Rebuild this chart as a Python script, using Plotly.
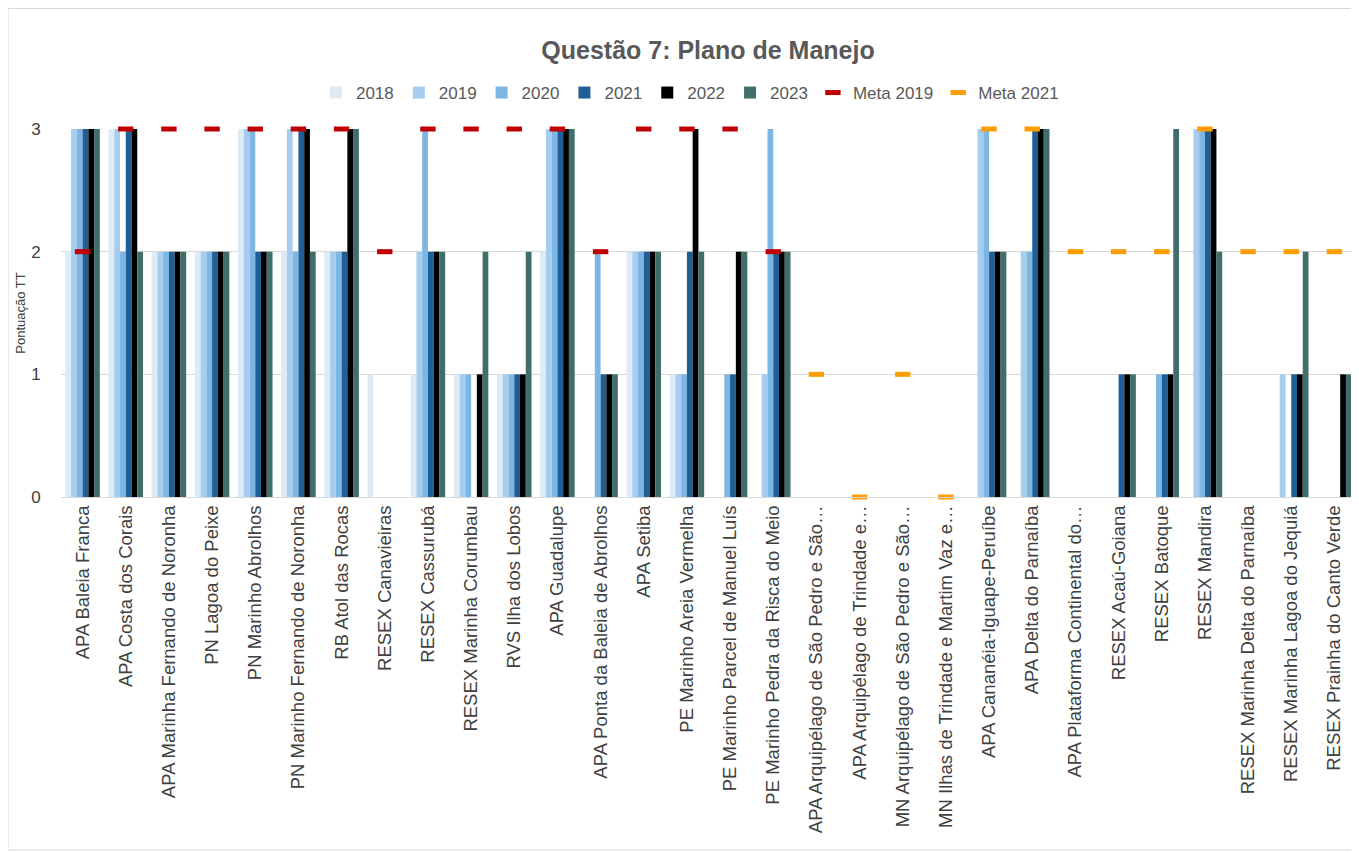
import plotly.graph_objects as go

categories = [
    "APA Baleia Franca", "APA Costa dos Corais", "APA Marinha Fernando de Noronha",
    "PN Lagoa do Peixe", "PN Marinho Abrolhos", "PN Marinho Fernando de Noronha",
    "RB Atol das Rocas", "RESEX Canavieiras", "RESEX Cassurubá",
    "RESEX Marinha Corumbau", "RVS Ilha dos Lobos", "APA Guadalupe",
    "APA Ponta da Baleia de Abrolhos", "APA Setiba", "PE Marinho Areia Vermelha",
    "PE Marinho Parcel de Manuel Luís", "PE Marinho Pedra da Risca do Meio",
    "APA Arquipélago de São Pedro e São…", "APA Arquipélago de Trindade e…",
    "MN Arquipélago de São Pedro e São…", "MN Ilhas de Trindade e Martim Vaz e…",
    "APA Cananéia-Iguape-Peruíbe", "APA Delta do Parnaíba",
    "APA Plataforma Continental do…", "RESEX Acaú-Goiana", "RESEX Batoque",
    "RESEX Mandira", "RESEX Marinha Delta do Parnaíba",
    "RESEX Marinha Lagoa do Jequiá", "RESEX Prainha do Canto Verde",
]

v2018 = [2, 3, 2, 2, 3, 2, 2, 1, 1, 1, 1, 2, 0, 2, 1, 0, 0, 0, 0, 0, 0, 0, 0, 0, 0, 0, 0, 0, 0, 0]
v2019 = [3, 3, 2, 2, 3, 3, 2, 0, 2, 1, 1, 3, 0, 2, 1, 0, 1, 0, 0, 0, 0, 3, 2, 0, 0, 0, 3, 0, 1, 0]
v2020 = [3, 2, 2, 2, 3, 2, 2, 0, 3, 1, 1, 3, 2, 2, 1, 1, 3, 0, 0, 0, 0, 3, 2, 0, 0, 1, 3, 0, 0, 0]
v2021 = [3, 3, 2, 2, 2, 3, 2, 0, 2, 0, 1, 3, 1, 2, 2, 1, 2, 0, 0, 0, 0, 2, 3, 0, 1, 1, 3, 0, 1, 0]
v2022 = [3, 3, 2, 2, 2, 3, 3, 0, 2, 1, 1, 3, 1, 2, 3, 2, 2, 0, 0, 0, 0, 2, 3, 0, 1, 1, 3, 0, 1, 1]
v2023 = [3, 2, 2, 2, 2, 2, 3, 0, 2, 2, 2, 3, 1, 2, 2, 2, 2, 0, 0, 0, 0, 2, 3, 0, 1, 3, 2, 0, 2, 1]

meta2019 = [2, 3, 3, 3, 3, 3, 3, 2, 3, 3, 3, 3, 2, 3, 3, 3, 2,
            None, None, None, None, None, None, None, None, None, None, None, None, None]
meta2021 = [None] * 17 + [1, 0, 1, 0, 3, 3, 2, 2, 2, 3, 2, 2, 2]

series = [
    ("2018", v2018, "#DDEBF7"),
    ("2019", v2019, "#A7CDEE"),
    ("2020", v2020, "#7DB6E3"),
    ("2021", v2021, "#1F5F96"),
    ("2022", v2022, "#000000"),
    ("2023", v2023, "#406E6A"),
]

# the page body has an 8px margin, so the figure starts at screen (8, 8)
OFF = 8
W, H = 1359 - OFF, 853 - OFF
L, T = 61.4 - OFF, 129 - OFF
R = W - (1355.7 - OFF)
B = H - (497 - OFF)
PW, PH = W - L - R, H - T - B


def px_x(sx):
    return (sx - OFF - L) / PW


def px_y(sy):
    return 1 - (sy - OFF - T) / PH


fig = go.Figure()
for name, vals, color in series:
    fig.add_trace(go.Bar(
        x=categories, y=vals, name=name,
        marker=dict(color=color, line=dict(width=0)),
    ))

for name, vals, color in [("Meta 2019", meta2019, "#C00000"), ("Meta 2021", meta2021, "#FF9C00")]:
    fig.add_trace(go.Scatter(
        x=categories, y=vals, name=name, mode="markers",
        marker=dict(symbol="line-ew", size=11, color=color, line=dict(width=5, color=color)),
        cliponaxis=False,
    ))

fig.add_shape(type="rect", xref="paper", yref="paper",
              x0=px_x(8.5), x1=px_x(1357), y0=px_y(850), y1=px_y(8.5),
              line=dict(color="#D9D9D9", width=1), fillcolor="rgba(0,0,0,0)", layer="below")

fig.update_layout(
    width=W, height=H,
    paper_bgcolor="white", plot_bgcolor="white",
    barmode="group", bargap=0.2, bargroupgap=0,
    margin=dict(l=L, r=R, t=T, b=B, autoexpand=False),
    font=dict(family="Liberation Sans", color="#595959"),
    title=dict(text="<b>Questão 7: Plano de Manejo</b>", x=(708 - OFF) / W, xanchor="center",
               y=1 - (50 - OFF) / H, yanchor="middle", font=dict(size=25, color="#595959")),
    legend=dict(orientation="h", x=px_x(690), xanchor="center", y=px_y(93), yanchor="middle",
                font=dict(size=17, color="#595959"), itemwidth=30, traceorder="normal"),
    showlegend=True,
)
fig.update_xaxes(
    range=[-0.5, len(categories) - 0.5],
    tickangle=-90, tickfont=dict(size=18.5, color="#404040"), automargin=False,
    showline=True, linecolor="#D9D9D9", linewidth=1, ticks="", showgrid=False,
)
fig.update_yaxes(
    range=[0, 3], tickvals=[0, 1, 2, 3], tickfont=dict(size=17, color="#404040"),
    automargin=False, ticks="outside", ticklen=16, tickcolor="rgba(0,0,0,0)",
    showgrid=True, gridcolor="#D9D9D9", gridwidth=1, zeroline=False,
    title=dict(text="Pontuação TT", font=dict(size=13, color="#404040"), standoff=2),
)

fig.write_html("out.html")
